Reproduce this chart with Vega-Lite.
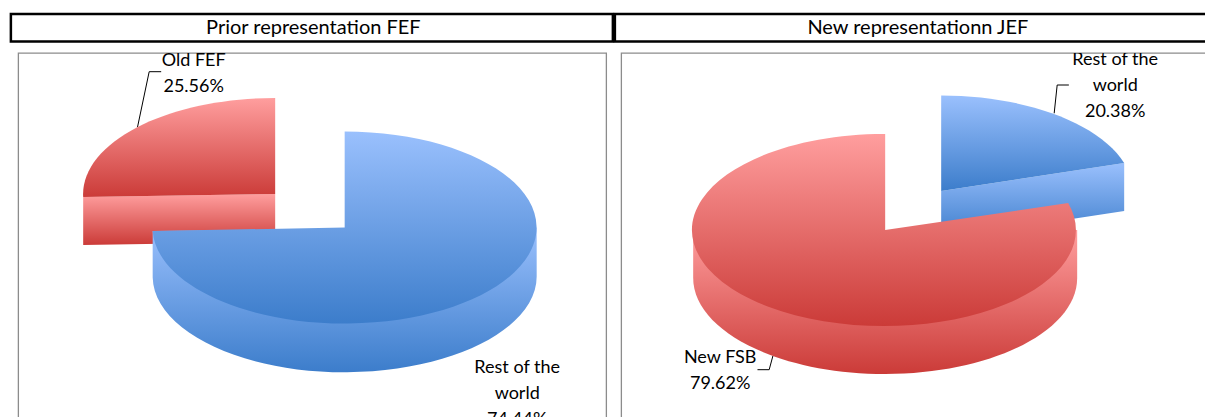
{
"$schema":"https://vega.github.io/schema/vega-lite/v6.json",
"padding":{"left":9.5,"top":12,"right":0,"bottom":0},
"background":"white",
"config":{"font":"Lato","concat":{"spacing":0},"view":{"continuousWidth":100,"continuousHeight":100}},
"spacing":-2,
"hconcat":[
{"vconcat":[
 {"width":602,"height":27.5,"view":{"stroke":"#000000","strokeWidth":2.5},
  "data":{"values":[{"title":"Prior representation FEF"}]},
  "mark":{"type":"text","font":"Lato","fontSize":20,"color":"#000000","baseline":"middle","dx":1.5,"dy":0.5},
  "encoding":{"text":{"field":"title"}}},
 {"width":588,"height":400,"view":{"stroke":"#8c8c8c","strokeWidth":1.3},
  "data":{"values":[
   {"slice":"Old FEF","share":25.56,"label":"Old FEF\n25.56%"},
   {"slice":"Rest of the world","share":74.44,"label":"Rest of the\nworld\n74.44%"}]},
  "encoding":{
   "x":{"field":"slice","type":"nominal","axis":null,"scale":{"type":"point","padding":0,"domain":["Old FEF","Rest of the world"],"range":[257,326.5]}},
   "y":{"field":"slice","type":"nominal","axis":null,"scale":{"type":"point","padding":0,"domain":["Old FEF","Rest of the world"],"range":[141,174.5]}}},
  "layer":[
   {"transform":[{"filter":"datum.slice==='Old FEF'"}],
    "mark":{"type":"point","shape":"M-114,-122.3L-126,-122.3L-137.7,-66.7","size":4,"filled":false,"stroke":"#000000","strokeWidth":1,"opacity":1}},
   {"transform":[{"filter":"datum.slice==='Old FEF'"}],
    "mark":{"type":"point","shape":"M0,0L-192,3L-192,51L0,48Z","size":4,"filled":true,"opacity":1,"stroke":null,
     "fill":{"gradient":"linear","x1":0,"y1":0,"x2":0,"y2":1,"stops":[{"offset":0,"color":"#ff9e9e"},{"offset":1,"color":"#cb3b38"}]}}},
   {"transform":[{"filter":"datum.slice==='Old FEF'"}],
    "mark":{"type":"point","shape":"M0,0L0,-96A192,96 0 0 0 -192,3Z","size":4,"filled":true,"opacity":1,"stroke":null,
     "fill":{"gradient":"linear","x1":0,"y1":0,"x2":0,"y2":1,"stops":[{"offset":0,"color":"#ff9e9e"},{"offset":1,"color":"#cb3b38"}]}}},
   {"transform":[{"filter":"datum.slice==='Rest of the world'"}],
    "mark":{"type":"point","shape":"M192,0L-192,3.5L-192,50A192,96 0 0 0 192,47.5Z","size":4,"filled":true,"opacity":1,"stroke":null,
     "fill":{"gradient":"linear","x1":0,"y1":0,"x2":0,"y2":1,"stops":[{"offset":0,"color":"#9ac0fd"},{"offset":1,"color":"#3c7dcb"}]}}},
   {"transform":[{"filter":"datum.slice==='Rest of the world'"}],
    "mark":{"type":"point","shape":"M0,0L0,-96A192,96 0 1 1 -192,3.5Z","size":4,"filled":true,"opacity":1,"stroke":null,
     "fill":{"gradient":"linear","x1":0,"y1":0,"x2":0,"y2":1,"stops":[{"offset":0,"color":"#9ac0fd"},{"offset":1,"color":"#3c7dcb"}]}}},
   {"transform":[{"filter":"datum.slice==='Old FEF'"}],
    "mark":{"type":"text","font":"Lato","fontSize":18,"color":"#000000","clip":true,"lineBreak":"\n","lineHeight":26,"baseline":"alphabetic","align":"center","dx":-81.5,"dy":-128.5},
    "encoding":{"text":{"field":"label"}}},
   {"transform":[{"filter":"datum.slice==='Rest of the world'"}],
    "mark":{"type":"text","font":"Lato","fontSize":18,"color":"#000000","clip":true,"lineBreak":"\n","lineHeight":26,"baseline":"alphabetic","align":"center","dx":172.5,"dy":145.5},
    "encoding":{"text":{"field":"label"}}}
  ]}
],"spacing":9,"center":true},
{"vconcat":[
 {"width":609,"height":27.5,"view":{"stroke":"#000000","strokeWidth":2.5},
  "data":{"values":[{"title":"New representationn JEF"}]},
  "mark":{"type":"text","font":"Lato","fontSize":20,"color":"#000000","baseline":"middle","dx":-1.5,"dy":0.5},
  "encoding":{"text":{"field":"title"}}},
 {"width":597,"height":400,"view":{"stroke":"#8c8c8c","strokeWidth":1.3},
  "data":{"values":[
   {"slice":"New FSB","share":79.62,"label":"New FSB\n79.62%"},
   {"slice":"Rest of the world","share":20.38,"label":"Rest of the\nworld\n20.38%"}]},
  "encoding":{
   "x":{"field":"slice","type":"nominal","axis":null,"scale":{"type":"point","padding":0,"domain":["New FSB","Rest of the world"],"range":[264,320]}},
   "y":{"field":"slice","type":"nominal","axis":null,"scale":{"type":"point","padding":0,"domain":["New FSB","Rest of the world"],"range":[177,138]}}},
  "layer":[
   {"transform":[{"filter":"datum.slice==='Rest of the world'"}],
    "mark":{"type":"point","shape":"M127.7,-106L116,-106L113,-77.7","size":4,"filled":false,"stroke":"#000000","strokeWidth":1,"opacity":1}},
   {"transform":[{"filter":"datum.slice==='Rest of the world'"}],
    "mark":{"type":"point","shape":"M0,0L183,-28L183,20L0,48Z","size":4,"filled":true,"opacity":1,"stroke":null,
     "fill":{"gradient":"linear","x1":0,"y1":0,"x2":0,"y2":1,"stops":[{"offset":0,"color":"#9ac0fd"},{"offset":1,"color":"#3c7dcb"}]}}},
   {"transform":[{"filter":"datum.slice==='Rest of the world'"}],
    "mark":{"type":"point","shape":"M0,0L0,-95.5A192,96 0 0 1 183,-28Z","size":4,"filled":true,"opacity":1,"stroke":null,
     "fill":{"gradient":"linear","x1":0,"y1":0,"x2":0,"y2":1,"stops":[{"offset":0,"color":"#9ac0fd"},{"offset":1,"color":"#3c7dcb"}]}}},
   {"transform":[{"filter":"datum.slice==='New FSB'"}],
    "mark":{"type":"point","shape":"M-192,0L192,0L192,48A192,96 0 0 1 -192,48Z","size":4,"filled":true,"opacity":1,"stroke":null,
     "fill":{"gradient":"linear","x1":0,"y1":0,"x2":0,"y2":1,"stops":[{"offset":0,"color":"#ff9e9e"},{"offset":1,"color":"#cb3b38"}]}}},
   {"transform":[{"filter":"datum.slice==='New FSB'"}],
    "mark":{"type":"point","shape":"M0,0L0,-96A192,96 0 1 0 183,-27Z","size":4,"filled":true,"opacity":1,"stroke":null,
     "fill":{"gradient":"linear","x1":0,"y1":0,"x2":0,"y2":1,"stops":[{"offset":0,"color":"#ff9e9e"},{"offset":1,"color":"#cb3b38"}]}}},
   {"transform":[{"filter":"datum.slice==='New FSB'"}],
    "mark":{"type":"point","shape":"M-127.7,139.7L-116,139.7L-112.3,126","size":4,"filled":false,"stroke":"#000000","strokeWidth":1,"opacity":1}},
   {"transform":[{"filter":"datum.slice==='New FSB'"}],
    "mark":{"type":"text","font":"Lato","fontSize":18,"color":"#000000","clip":true,"lineBreak":"\n","lineHeight":26,"baseline":"alphabetic","align":"center","dx":-165,"dy":133},
    "encoding":{"text":{"field":"label"}}},
   {"transform":[{"filter":"datum.slice==='Rest of the world'"}],
    "mark":{"type":"text","font":"Lato","fontSize":18,"color":"#000000","clip":true,"lineBreak":"\n","lineHeight":26,"baseline":"alphabetic","align":"center","dx":174,"dy":-126},
    "encoding":{"text":{"field":"label"}}}
  ]}
],"spacing":9,"center":true}
]}
